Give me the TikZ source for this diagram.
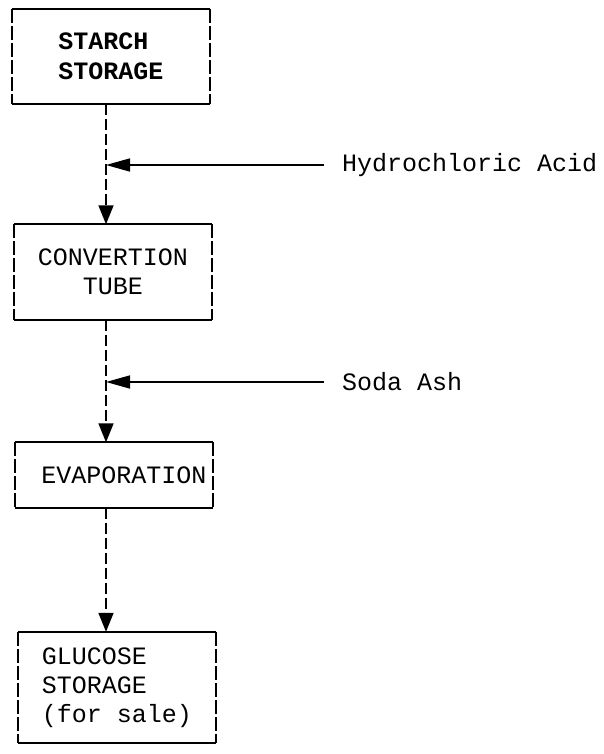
\documentclass[tikz,border=0pt]{standalone}
\usepackage{fontspec}
\setmonofont{Liberation Mono}
\usetikzlibrary{arrows.meta}
\begin{document}
\begin{tikzpicture}[x=1pt,y=-1pt,
  font=\ttfamily\fontsize{25}{29}\selectfont,
  procbox/.style={minimum width=198pt,inner sep=0pt,align=left},
  boxrule/.style={line width=1.8pt},
  boxside/.style={line width=1.6pt,dash pattern=on 14pt off 3pt},
  flow/.style={line width=1.6pt,dash pattern=on 11pt off 4pt,
    -{Triangle[length=19pt,width=15pt]}},
  feed/.style={line width=1.6pt,-{Triangle[length=24pt,width=13pt]}}]
\path[use as bounding box] (0,0) rectangle (603,754);
% process boxes, top to bottom
\node[procbox,minimum height=95pt,
  font=\ttfamily\bfseries\fontsize{25}{30}\selectfont] (starch) at (111,56.5)
  {STARCH\\STORAGE};
\node[procbox,minimum height=95pt,align=center] (tube) at (113,272)
  {CONVERTION\\TUBE};
\node[procbox,minimum height=65pt] (evap) at (114,475)
  {\hspace*{20pt}EVAPORATION};
\node[procbox,minimum height=111pt] (glucose) at (117,687.5)
  {GLUCOSE\\STORAGE\\(for sale)};
\foreach \n in {starch,tube,evap,glucose}{
  \draw[boxrule] (\n.north west) -- (\n.north east)
    (\n.south west) -- (\n.south east);
  \draw[boxside] (\n.north west) -- (\n.south west)
    (\n.north east) -- (\n.south east);
}
% main line
\coordinate (trunk) at (106,0);
\draw[flow] (starch.south -| trunk) -- (tube.north -| trunk);
\draw[flow] (tube.south -| trunk) -- (evap.north -| trunk);
\draw[flow] (evap.south -| trunk) -- (glucose.north -| trunk);
% additions
\node[anchor=west,inner xsep=18pt,inner ysep=0pt] (hcl) at (324,165)
  {Hydrochloric Acid};
\node[anchor=west,inner xsep=18pt,inner ysep=0pt] (soda) at (324,382)
  {Soda Ash};
\draw[feed] (hcl.west) -- (hcl.west -| trunk);
\draw[feed] (soda.west) -- (soda.west -| trunk);
\end{tikzpicture}
\end{document}
